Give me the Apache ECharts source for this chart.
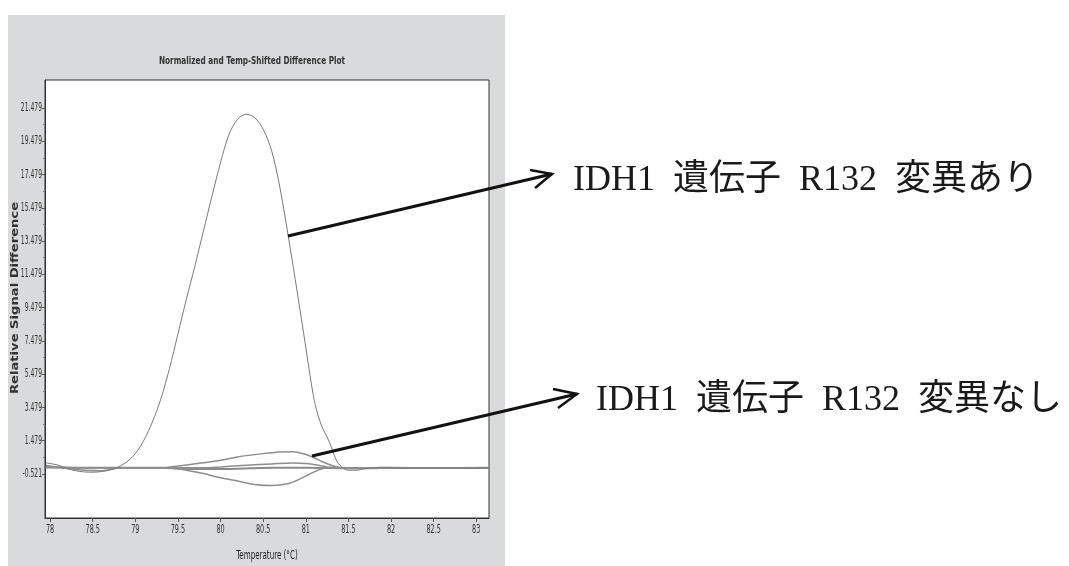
<!DOCTYPE html>
<html><head><meta charset="utf-8">
<script src="https://cdn.jsdelivr.net/npm/echarts@6/dist/echarts.min.js"></script>
<style>html,body{margin:0;padding:0;background:#fff}#c{width:1069px;height:566px}</style>
</head><body><div id="c"></div>
<script>
// ---- data ----
var titleText = 'Normalized and Temp-Shifted Difference Plot';
var xName = 'Temperature (\u00b0C)';
var yName = 'Relative Signal Difference';
var xTicks = [78, 78.5, 79, 79.5, 80, 80.5, 81, 81.5, 82, 82.5, 83];
var yTicks = [-0.521, 1.479, 3.479, 5.479, 7.479, 9.479, 11.479, 13.479, 15.479, 17.479, 19.479, 21.479];
var yMinorTicks = [0.479, 2.479, 4.479, 6.479, 8.479, 10.479, 12.479, 14.479, 16.479, 18.479, 20.479];

// mutant sample (big peak)
var mutTemp = [77.95, 78.1, 78.2, 78.3, 78.4, 78.5, 78.6, 78.7, 78.8, 78.9, 79.0, 79.1, 79.2, 79.3, 79.4, 79.5, 79.6, 79.7, 79.8, 79.9, 80.0, 80.1, 80.2, 80.3, 80.4, 80.5, 80.6, 80.7, 80.8, 80.9, 81.0, 81.05, 81.1, 81.15, 81.2, 81.25, 81.3, 81.35, 81.4, 81.5, 81.6, 81.7, 81.9, 82.2, 82.5, 82.8, 83.15];
var mutVal  = [0.15, 0.0, -0.2, -0.33, -0.4, -0.42, -0.38, -0.28, -0.1, 0.2, 0.7, 1.5, 2.6, 4.0, 5.8, 7.9, 10.0, 12.0, 14.1, 16.2, 18.2, 19.9, 20.8, 21.1, 20.9, 20.2, 18.9, 16.6, 13.6, 10.4, 7.1, 5.4, 3.9, 2.9, 2.2, 1.7, 1.1, 0.4, 0.0, -0.3, -0.3, -0.2, -0.12, -0.18, -0.15, -0.18, -0.15];

// wild-type samples (near baseline)
var wt1Temp = [77.95, 78.3, 78.8, 79.3, 79.6, 80.1, 80.6, 81.0, 81.5, 82.0, 82.5, 83.15];
var wt1Val  = [-0.1, -0.15, -0.15, -0.15, -0.22, -0.22, -0.15, -0.15, -0.18, -0.15, -0.17, -0.15];

var wt2Temp = [77.95, 78.5, 79.0, 79.3, 79.5, 79.8, 80.0, 80.2, 80.5, 80.7, 80.85, 81.0, 81.1, 81.2, 81.3, 81.4, 81.6, 82.2, 83.15];
var wt2Val  = [-0.1, -0.15, -0.15, -0.15, -0.05, 0.15, 0.3, 0.5, 0.7, 0.8, 0.82, 0.65, 0.45, 0.2, 0.0, -0.15, -0.2, -0.15, -0.15];

var wt3Temp = [77.95, 78.2, 78.4, 78.6, 78.85, 79.2, 79.4, 79.6, 79.8, 80.0, 80.2, 80.4, 80.6, 80.8, 80.9, 81.0, 81.1, 81.2, 81.3, 81.5, 82.2, 83.15];
var wt3Val  = [0.0, -0.2, -0.3, -0.33, -0.15, -0.15, -0.17, -0.3, -0.5, -0.75, -0.95, -1.15, -1.22, -1.1, -0.9, -0.65, -0.4, -0.2, -0.12, -0.15, -0.15, -0.15];

var wt4Temp = [77.95, 79.0, 79.8, 80.0, 80.3, 80.6, 80.85, 81.0, 81.2, 81.3, 82.0, 83.15];
var wt4Val  = [-0.15, -0.15, -0.15, -0.1, 0.0, 0.08, 0.14, 0.1, -0.05, -0.15, -0.15, -0.15];

var label1 = 'IDH1\u2002遺伝子\u2002R132\u2002変異あり';
var label2 = 'IDH1\u2002遺伝子\u2002R132\u2002変異なし';

function pairs(xs, ys) { return xs.map(function (x, i) { return [x, ys[i]]; }); }

var condensed = "'DejaVu Sans Condensed','Liberation Sans',sans-serif";
var chart = echarts.init(document.getElementById('c'), null, {renderer: 'canvas'});

function lineSeries(name, xs, ys, color, width) {
  return {
    name: name, type: 'line', data: pairs(xs, ys), smooth: 0.3, showSymbol: false,
    symbol: 'none', lineStyle: {color: color, width: width}, silent: true, z: 3
  };
}

chart.setOption({
  animation: false,
  backgroundColor: '#ffffff',
  grid: {
    left: 45, right: 580, top: 80, bottom: 48, show: true, outerBoundsMode: 'none',
    backgroundColor: '#ffffff', borderColor: '#333', borderWidth: 1, containLabel: false
  },
  xAxis: {
    type: 'value', min: 77.94, max: 83.15,
    axisLine: {show: true, onZero: false, lineStyle: {color: '#333', width: 1}},
    axisTick: {show: true, length: 4, customValues: xTicks, lineStyle: {color: '#555'}},
    axisLabel: {show: false},
    splitLine: {show: false}
  },
  yAxis: [{
    type: 'value', min: -3.17, max: 23.16,
    axisLine: {show: true, onZero: false, lineStyle: {color: '#333', width: 1}},
    axisTick: {show: true, length: 3, customValues: yTicks, lineStyle: {color: '#555'}},
    axisLabel: {show: false},
    splitLine: {show: false}
  }, {
    type: 'value', min: -3.17, max: 23.16, position: 'left',
    axisLine: {show: false, onZero: false},
    axisTick: {show: true, length: 2, customValues: yMinorTicks, lineStyle: {color: '#777'}},
    axisLabel: {show: false}, splitLine: {show: false}
  }],
  series: [
    lineSeries('wt1', wt1Temp, wt1Val, '#8a8a8a', 2),
    lineSeries('wt2', wt2Temp, wt2Val, '#8e8e8e', 1.5),
    lineSeries('wt3', wt3Temp, wt3Val, '#8e8e8e', 1.5),
    lineSeries('wt4', wt4Temp, wt4Val, '#8e8e8e', 1.5),
    lineSeries('mutant', mutTemp, mutVal, '#7a7a7a', 1)
  ]
});

// condensed tick labels placed through the chart's own axis scales
var graphics = [
  {type: 'rect', z: -100, silent: true, shape: {x: 8, y: 15, width: 497, height: 551}, style: {fill: '#d9dadb'}},
  {type: 'text', z: 100, silent: true, x: 252, y: 61, scaleX: 0.74,
    style: {text: titleText, fill: '#333', font: "bold 11px " + condensed, textAlign: 'center', textVerticalAlign: 'middle'}},
  {type: 'text', z: 100, silent: true, x: 267, y: 556, scaleX: 0.66,
    style: {text: xName, fill: '#222', font: "12px " + condensed, textAlign: 'center', textVerticalAlign: 'middle'}},
  {type: 'text', z: 100, silent: true, x: 15, y: 298, rotation: Math.PI / 2, scaleX: 1.25,
    style: {text: yName, fill: '#333', font: "bold 10.5px 'DejaVu Sans','Liberation Sans',sans-serif", textAlign: 'center', textVerticalAlign: 'middle'}},
  {type: 'polyline', z: 100, silent: true, shape: {points: [[288, 236], [552, 174]]}, style: {stroke: '#111', lineWidth: 3, fill: null}},
  {type: 'polyline', z: 100, silent: true, shape: {points: [[530, 170], [552, 174], [535, 188]]}, style: {stroke: '#111', lineWidth: 2.5, fill: null, lineJoin: 'miter'}},
  {type: 'polyline', z: 100, silent: true, shape: {points: [[312, 456], [577, 394]]}, style: {stroke: '#111', lineWidth: 3, fill: null}},
  {type: 'polyline', z: 100, silent: true, shape: {points: [[553, 389], [577, 394], [558, 408]]}, style: {stroke: '#111', lineWidth: 2.5, fill: null, lineJoin: 'miter'}},
  {type: 'text', z: 100, silent: true, x: 573, y: 181, style: {text: label1, fill: '#1a1a1a', font: "36px 'Liberation Serif','Noto Sans CJK JP',serif", textAlign: 'left', textVerticalAlign: 'middle'}},
  {type: 'text', z: 100, silent: true, x: 596, y: 401, style: {text: label2, fill: '#1a1a1a', font: "36px 'Liberation Serif','Noto Sans CJK JP',serif", textAlign: 'left', textVerticalAlign: 'middle'}}
];
yTicks.forEach(function (v) {
  var py = chart.convertToPixel({yAxisIndex: 0}, v);
  graphics.push({type: 'text', z: 100, silent: true, x: 42, y: py, scaleX: 0.56,
    style: {text: v.toFixed(3), fill: '#333', font: "12px " + condensed, textAlign: 'right', textVerticalAlign: 'middle'}});
});
xTicks.forEach(function (v) {
  var px = chart.convertToPixel({xAxisIndex: 0}, v);
  graphics.push({type: 'text', z: 100, silent: true, x: px, y: 530, scaleX: 0.6,
    style: {text: String(v), fill: '#333', font: "12px " + condensed, textAlign: 'center', textVerticalAlign: 'middle'}});
});
chart.setOption({graphic: graphics});
</script></body></html>
